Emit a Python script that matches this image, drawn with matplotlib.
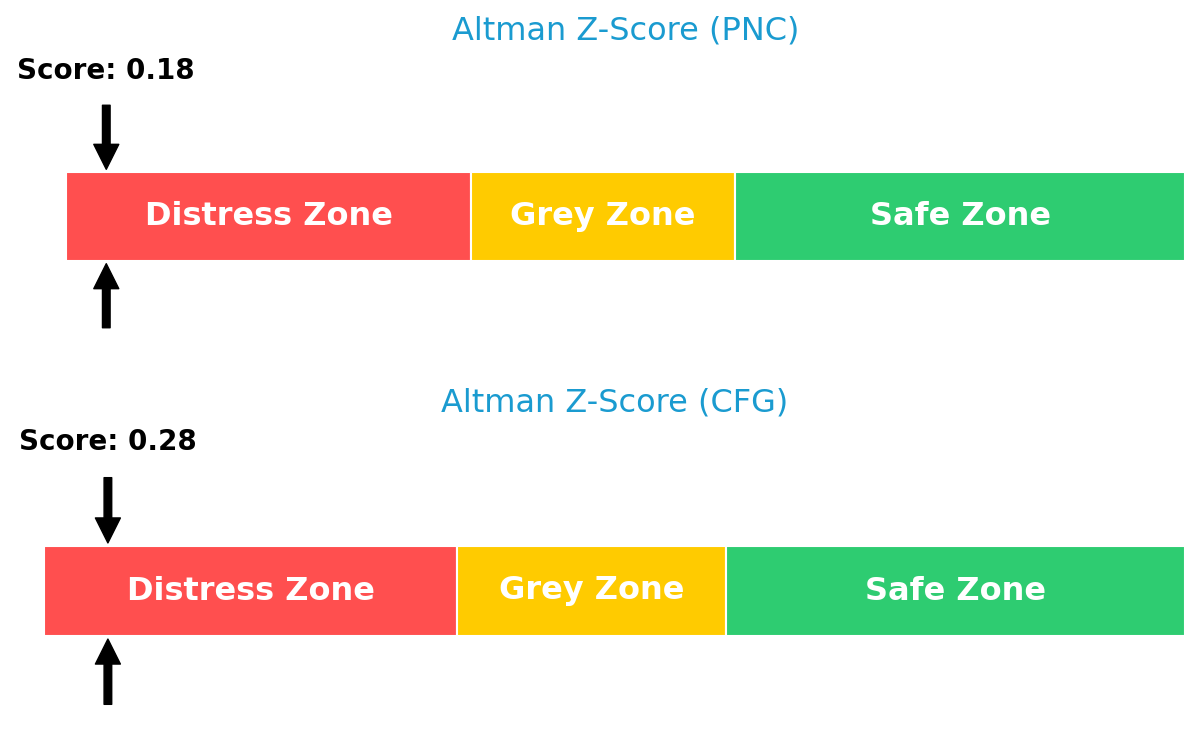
import matplotlib
matplotlib.use("Agg")
import matplotlib.pyplot as plt

# Data
tickers = ["PNC", "CFG"]
scores = [0.18, 0.28]
zone_edges = [0.0, 1.81, 2.99, 5.0]
zone_labels = ["Distress Zone", "Grey Zone", "Safe Zone"]
zone_colors = ["#ff4f4f", "#ffcb00", "#2ecc71"]

W, H = 1200, 749
fig = plt.figure(figsize=(12, 7.49), dpi=100)

# axes placement (pixels): left, right, top, bottom
ax_px = [
    (66, 1185, 83, 350),
    (44, 1185, 455, 727),
]

for (l, r, t, b), ticker, score in zip(ax_px, tickers, scores):
    ax = fig.add_axes([l / W, 1 - b / H, (r - l) / W, (b - t) / H])
    ax.set_xlim(zone_edges[0], zone_edges[-1])
    ax.set_ylim(-1.5, 1.5)
    ax.axis("off")
    for i, (lab, col) in enumerate(zip(zone_labels, zone_colors)):
        x0, x1 = zone_edges[i], zone_edges[i + 1]
        ax.barh(0, x1 - x0, left=x0, height=1.0, color=col,
                edgecolor="white", linewidth=1.5)
        ax.text((x0 + x1) / 2, 0, lab, ha="center", va="center",
                color="white", fontsize=23, fontweight="bold")
    # arrows
    ax.annotate("", xy=(score, 0.53), xytext=(score, 1.25),
                arrowprops=dict(facecolor="black", edgecolor="black",
                                width=5.5, headwidth=18, headlength=18))
    ax.annotate("", xy=(score, -0.53), xytext=(score, -1.25),
                arrowprops=dict(facecolor="black", edgecolor="black",
                                width=5.5, headwidth=18, headlength=18))
    ax.text(score, 1.55, f"Score: {score:.2f}", ha="center", va="baseline",
            fontsize=20, fontweight="bold", color="black")
    ax.set_title(f"Altman Z-Score ({ticker})", fontsize=23,
                 color="#1a9bd0", pad=31)

fig.savefig("out.png", dpi=100, facecolor="white")
